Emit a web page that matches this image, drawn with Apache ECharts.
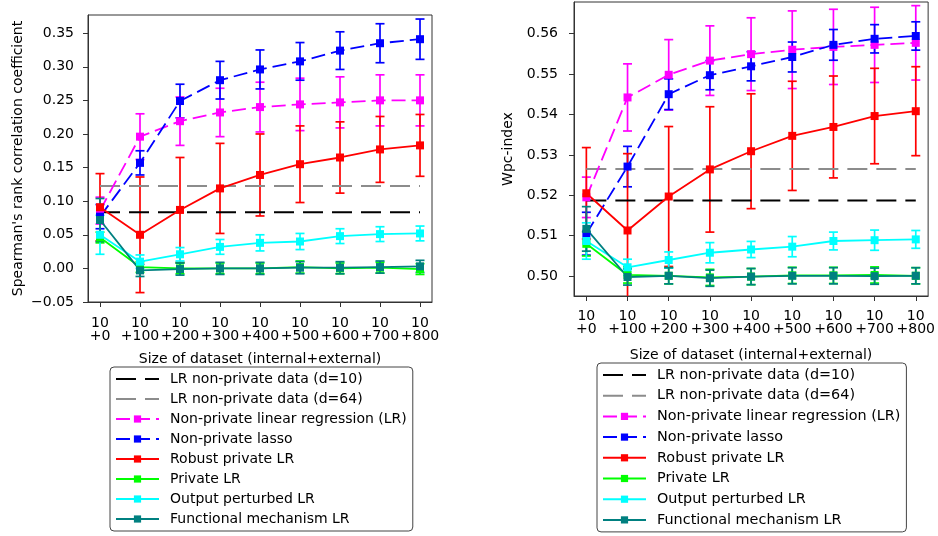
<!DOCTYPE html>
<html>
<head>
<meta charset="utf-8">
<script src="https://cdn.jsdelivr.net/npm/echarts@6/dist/echarts.min.js"></script>
<style>html,body{margin:0;padding:0;background:#fff;}#c{width:938px;height:536px;}</style>
</head>
<body>
<div id="c"></div>
<script>
// ---------- shared ----------
const xPos = [0, 1, 2, 3, 4, 5, 6, 7, 8];
const xTickLabels = ['10\n+0', '10\n+100', '10\n+200', '10\n+300', '10\n+400', '10\n+500', '10\n+600', '10\n+700', '10\n+800'];
const seriesNames = ['LR non-private data (d=10)', 'LR non-private data (d=64)', 'Non-private linear regression (LR)', 'Non-private lasso', 'Robust private LR', 'Private LR', 'Output perturbed LR', 'Functional mechanism LR'];

// ---------- left: Spearman ----------
const spTicks = [-0.05, 0.00, 0.05, 0.10, 0.15, 0.20, 0.25, 0.30, 0.35];
const spLR10 = [0.0835, 0.0835, 0.0835, 0.0835, 0.0835, 0.0835, 0.0835, 0.0835, 0.0835];
const spLR64 = [0.1225, 0.1225, 0.1225, 0.1225, 0.1225, 0.1225, 0.1225, 0.1225, 0.1225];
const spLinVal = [0.086, 0.196, 0.219, 0.232, 0.240, 0.244, 0.247, 0.250, 0.250];
const spLinErr = [0.020, 0.034, 0.036, 0.036, 0.037, 0.039, 0.038, 0.038, 0.038];
const spLassoVal = [0.077, 0.157, 0.249, 0.280, 0.296, 0.308, 0.324, 0.335, 0.341];
const spLassoErr = [0.018, 0.018, 0.025, 0.028, 0.029, 0.028, 0.028, 0.029, 0.030];
const spRobVal = [0.091, 0.050, 0.087, 0.119, 0.139, 0.155, 0.165, 0.177, 0.183];
const spRobErr = [0.050, 0.086, 0.078, 0.067, 0.061, 0.057, 0.053, 0.049, 0.046];
const spPrivVal = [0.046, 0.002, 0.000, 0.000, 0.000, 0.002, 0.000, 0.001, -0.001];
const spPrivErr = [0.008, 0.008, 0.008, 0.008, 0.008, 0.009, 0.008, 0.008, 0.008];
const spOutVal = [0.050, 0.010, 0.021, 0.032, 0.038, 0.040, 0.048, 0.051, 0.052];
const spOutErr = [0.029, 0.010, 0.010, 0.011, 0.012, 0.012, 0.011, 0.011, 0.011];
const spFuncVal = [0.072, -0.003, -0.001, 0.000, 0.000, 0.001, 0.001, 0.002, 0.003];
const spFuncErr = [0.032, 0.009, 0.009, 0.009, 0.009, 0.009, 0.009, 0.009, 0.009];

// ---------- right: Wpc-index ----------
const wpTicks = [0.50, 0.51, 0.52, 0.53, 0.54, 0.55, 0.56];
const wpLR10 = [0.5187, 0.5187, 0.5187, 0.5187, 0.5187, 0.5187, 0.5187, 0.5187, 0.5187];
const wpLR64 = [0.5265, 0.5265, 0.5265, 0.5265, 0.5265, 0.5265, 0.5265, 0.5265, 0.5265];
const wpLinVal = [0.5195, 0.5442, 0.5498, 0.5533, 0.5549, 0.5560, 0.5567, 0.5572, 0.5577];
const wpLinErr = [0.0050, 0.0083, 0.0087, 0.0086, 0.0090, 0.0096, 0.0093, 0.0093, 0.0092];
const wpLassoVal = [0.5105, 0.5271, 0.5450, 0.5497, 0.5519, 0.5542, 0.5572, 0.5587, 0.5594];
const wpLassoErr = [0.0053, 0.0050, 0.0038, 0.0036, 0.0036, 0.0037, 0.0038, 0.0035, 0.0035];
const wpRobVal = [0.5205, 0.5113, 0.5197, 0.5264, 0.5309, 0.5347, 0.5369, 0.5396, 0.5408];
const wpRobErr = [0.0113, 0.0190, 0.0173, 0.0155, 0.0142, 0.0135, 0.0126, 0.0118, 0.0110];
const wpPrivVal = [0.5080, 0.5003, 0.5001, 0.4997, 0.4999, 0.5002, 0.5002, 0.5003, 0.5001];
const wpPrivErr = [0.0030, 0.0020, 0.0020, 0.0020, 0.0020, 0.0020, 0.0020, 0.0020, 0.0020];
const wpOutVal = [0.5087, 0.5022, 0.5040, 0.5058, 0.5066, 0.5073, 0.5087, 0.5089, 0.5091];
const wpOutErr = [0.0045, 0.0020, 0.0020, 0.0025, 0.0020, 0.0025, 0.0022, 0.0025, 0.0022];
const wpFuncVal = [0.5117, 0.4998, 0.5001, 0.4995, 0.4999, 0.5001, 0.5001, 0.5000, 0.5001];
const wpFuncErr = [0.0055, 0.0020, 0.0020, 0.0020, 0.0020, 0.0020, 0.0020, 0.0020, 0.0020];

// ---------- styling ----------
const FONT = 'DejaVu Sans';
const FS = 14;
const colors = ['#000000', '#8c8c8c', '#ff00ff', '#0000ff', '#ff0000', '#00ff00', '#00ffff', '#008080'];
const refDash = [20, 9];
const serDash = [14, 6];

function errRender(color) {
  return function (params, api) {
    const x = api.value(0), lo = api.value(1), hi = api.value(2);
    const p1 = api.coord([x, hi]);
    const p2 = api.coord([x, lo]);
    const cs = params.coordSys;
    const top = cs.y, bot = cs.y + cs.height;
    const y1 = Math.max(p1[1], top), y2 = Math.min(p2[1], bot);
    const hw = 4.5;
    const st = { stroke: color, lineWidth: 1.7 };
    const ch = [{ type: 'line', shape: { x1: p1[0], y1: y1, x2: p1[0], y2: y2 }, style: st }];
    if (p1[1] >= top) ch.push({ type: 'line', shape: { x1: p1[0] - hw, y1: p1[1], x2: p1[0] + hw, y2: p1[1] }, style: st });
    if (p2[1] <= bot) ch.push({ type: 'line', shape: { x1: p2[0] - hw, y1: p2[1], x2: p2[0] + hw, y2: p2[1] }, style: st });
    return { type: 'group', children: ch };
  };
}

function buildSeries(idx, sets) {
  const out = [];
  [sets.lr10, sets.lr64].forEach((arr, k) => {
    out.push({
      type: 'line', name: seriesNames[k], xAxisIndex: idx, yAxisIndex: idx,
      data: xPos.map((x, i) => [x, arr[i]]), symbol: 'none', silent: true,
      lineStyle: { color: colors[k], width: 2, type: refDash }, itemStyle: { color: colors[k] }
    });
  });
  const main = [sets.lin, sets.lasso, sets.rob, sets.priv, sets.out, sets.func];
  main.forEach((s, j) => {
    const k = j + 2;
    const dashed = (k === 2 || k === 3);
    out.push({
      type: 'custom', name: 'err' + idx + '_' + k, xAxisIndex: idx, yAxisIndex: idx, silent: true,
      renderItem: errRender(colors[k]),
      data: xPos.map((x, i) => [x, s[0][i] - s[1][i], s[0][i] + s[1][i]]),
      encode: { x: 0, y: [1, 2] }
    });
    out.push({
      type: 'line', name: seriesNames[k], xAxisIndex: idx, yAxisIndex: idx, silent: true,
      data: xPos.map((x, i) => [x, s[0][i]]), symbol: 'rect', symbolSize: 8, showSymbol: true,
      lineStyle: { color: colors[k], width: 1.8, type: dashed ? serDash : 'solid' },
      itemStyle: { color: colors[k] }
    });
  });
  return out;
}

const fmtTick = v => (v < 0 ? '\u2212' + Math.abs(v).toFixed(2) : v.toFixed(2));

function xAxisCfg(idx, gap, margin) {
  return {
    type: 'value', gridIndex: idx, min: -0.3, max: 8.3,
    name: 'Size of dataset (internal+external)', nameLocation: 'middle', nameGap: gap,
    nameTextStyle: { fontFamily: FONT, fontSize: FS, color: '#000' },
    axisLine: { show: true, onZero: false, lineStyle: { color: '#333', width: 1 } },
    axisTick: { show: true, customValues: xPos, length: 5, lineStyle: { color: '#333' } },
    axisLabel: { customValues: xPos, formatter: v => xTickLabels[Math.round(v)], fontFamily: FONT, fontSize: FS, lineHeight: 13, color: '#000', margin: margin },
    splitLine: { show: false }
  };
}
function yAxisCfg(idx, min, max, ticks, name, gap, margin) {
  return {
    type: 'value', gridIndex: idx, min: min, max: max,
    name: name, nameLocation: 'middle', nameGap: gap,
    nameTextStyle: { fontFamily: FONT, fontSize: FS, color: '#000' },
    axisLine: { show: true, onZero: false, lineStyle: { color: '#333', width: 1 } },
    axisTick: { show: true, customValues: ticks, length: 5, lineStyle: { color: '#333' } },
    axisLabel: { customValues: ticks, formatter: fmtTick, fontFamily: FONT, fontSize: FS, color: '#000', margin: margin },
    splitLine: { show: false }
  };
}
function legendCfg(left, top, gap, fs) {
  return {
    left: left, top: top, orient: 'vertical', selectedMode: false,
    data: seriesNames.map((n, i) => (i < 2 ? { name: n, itemStyle: { opacity: 0 } } : { name: n })),
    itemWidth: 43, itemHeight: 9, itemGap: gap,
    padding: [5, 6, 5, 5], borderColor: '#444', borderWidth: 1, borderRadius: 4,
    textStyle: { fontFamily: FONT, fontSize: fs, lineHeight: 14, color: '#000', padding: [0, 0, 0, 6] }
  };
}

const option = {
  animation: false,
  backgroundColor: '#fff',
  grid: [
    { left: 88, top: 15, width: 344, height: 287, show: true, borderColor: '#333', borderWidth: 1, backgroundColor: 'transparent' },
    { left: 574, top: 2, width: 355, height: 294, show: true, borderColor: '#333', borderWidth: 1, backgroundColor: 'transparent' }
  ],
  xAxis: [xAxisCfg(0, 50, 15), xAxisCfg(1, 52, 14)],
  yAxis: [
    yAxisCfg(0, -0.05, 0.377, spTicks, "Spearman's rank correlation coefficient", 63, 14),
    yAxisCfg(1, 0.4951, 0.5678, wpTicks, 'Wpc-index', 59, 16)
  ],
  legend: [legendCfg(110, 367, 6, 14), legendCfg(597, 363, 6.7, 14.4)],
  series: [].concat(
    buildSeries(0, {
      lr10: spLR10, lr64: spLR64,
      lin: [spLinVal, spLinErr], lasso: [spLassoVal, spLassoErr], rob: [spRobVal, spRobErr],
      priv: [spPrivVal, spPrivErr], out: [spOutVal, spOutErr], func: [spFuncVal, spFuncErr]
    }),
    buildSeries(1, {
      lr10: wpLR10, lr64: wpLR64,
      lin: [wpLinVal, wpLinErr], lasso: [wpLassoVal, wpLassoErr], rob: [wpRobVal, wpRobErr],
      priv: [wpPrivVal, wpPrivErr], out: [wpOutVal, wpOutErr], func: [wpFuncVal, wpFuncErr]
    })
  )
};
const chart = echarts.init(document.getElementById('c'), null, { renderer: 'canvas' });
chart.setOption(option);
</script>
</body>
</html>
